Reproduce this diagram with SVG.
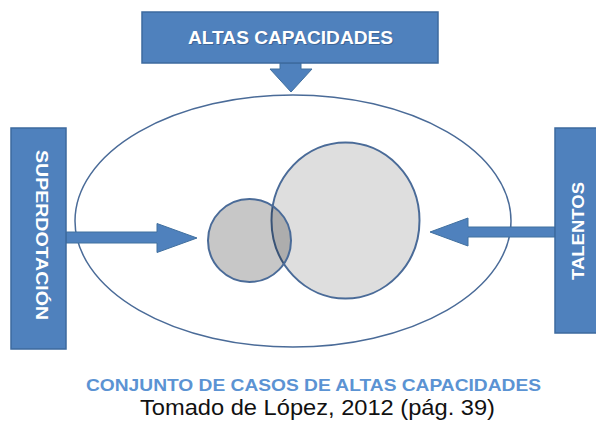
<svg xmlns="http://www.w3.org/2000/svg" width="596" height="428" viewBox="0 0 596 428">
<style>
.box{fill:#4f81bd;stroke:#3d6a9e;stroke-width:1.5}
.arrow{fill:#4f81bd;stroke:#41709f;stroke-width:1}
.lbl{font-family:"Liberation Sans",Arial,sans-serif;font-weight:bold;fill:#ffffff}
.shadow{font-family:"Liberation Sans",Arial,sans-serif;font-weight:bold;fill:#2c4a70;opacity:0.5}
.set{stroke:#4a6b98;stroke-width:2}
</style>
<rect width="596" height="428" fill="#ffffff"/>
<g id="conjunto">
<ellipse cx="293" cy="221" rx="218" ry="126" fill="none" stroke="#4a6b98" stroke-width="1.5"/>
</g>
<g id="talentos-set">
<ellipse class="set" cx="345.5" cy="220.5" rx="74" ry="78" fill="#dedede"/>
</g>
<g id="superdotacion-set">
<circle class="set" cx="249.5" cy="240.5" r="41.5" fill="#000000" fill-opacity="0.22"/>
</g>
<g id="connectors">
<polygon class="arrow" points="280,63 301,63 301,69 312,69 291,92 270,69 280,69"/>
<polygon class="arrow" points="66,232 157,232 157,223.5 197,238 157,252.5 157,243 66,243"/>
<polygon class="arrow" points="555,227 468,227 468,218 430,232 468,246 468,237 555,237"/>
</g>
<g id="altas-capacidades">
<rect class="box" x="142" y="12" width="296" height="51"/>
<text class="shadow" x="291.5" y="44.5" font-size="18" text-anchor="middle" textLength="205" lengthAdjust="spacingAndGlyphs">ALTAS CAPACIDADES</text>
<text class="lbl" x="290.5" y="43.5" font-size="18" text-anchor="middle" textLength="205" lengthAdjust="spacingAndGlyphs">ALTAS CAPACIDADES</text>
</g>
<g id="superdotacion">
<rect class="box" x="11" y="128" width="55" height="221"/>
<text class="lbl" transform="translate(36,235) rotate(90)" font-size="16" text-anchor="middle" textLength="170" lengthAdjust="spacingAndGlyphs">SUPERDOTACIÓN</text>
</g>
<g id="talentos">
<rect class="box" x="555" y="128" width="45" height="205"/>
<text class="lbl" transform="translate(584,231) rotate(-90)" font-size="16" text-anchor="middle" textLength="98" lengthAdjust="spacingAndGlyphs">TALENTOS</text>
</g>
<g id="caption">
<text x="313.5" y="391" font-family="'Liberation Sans',Arial,sans-serif" font-weight="bold" font-size="17" fill="#5b93d3" text-anchor="middle" textLength="455" lengthAdjust="spacingAndGlyphs">CONJUNTO DE CASOS DE ALTAS CAPACIDADES</text>
<text x="317.5" y="415" font-family="'Liberation Sans',Arial,sans-serif" font-size="22" fill="#111111" text-anchor="middle" textLength="355" lengthAdjust="spacingAndGlyphs">Tomado de López, 2012 (pág. 39)</text>
</g>
</svg>
